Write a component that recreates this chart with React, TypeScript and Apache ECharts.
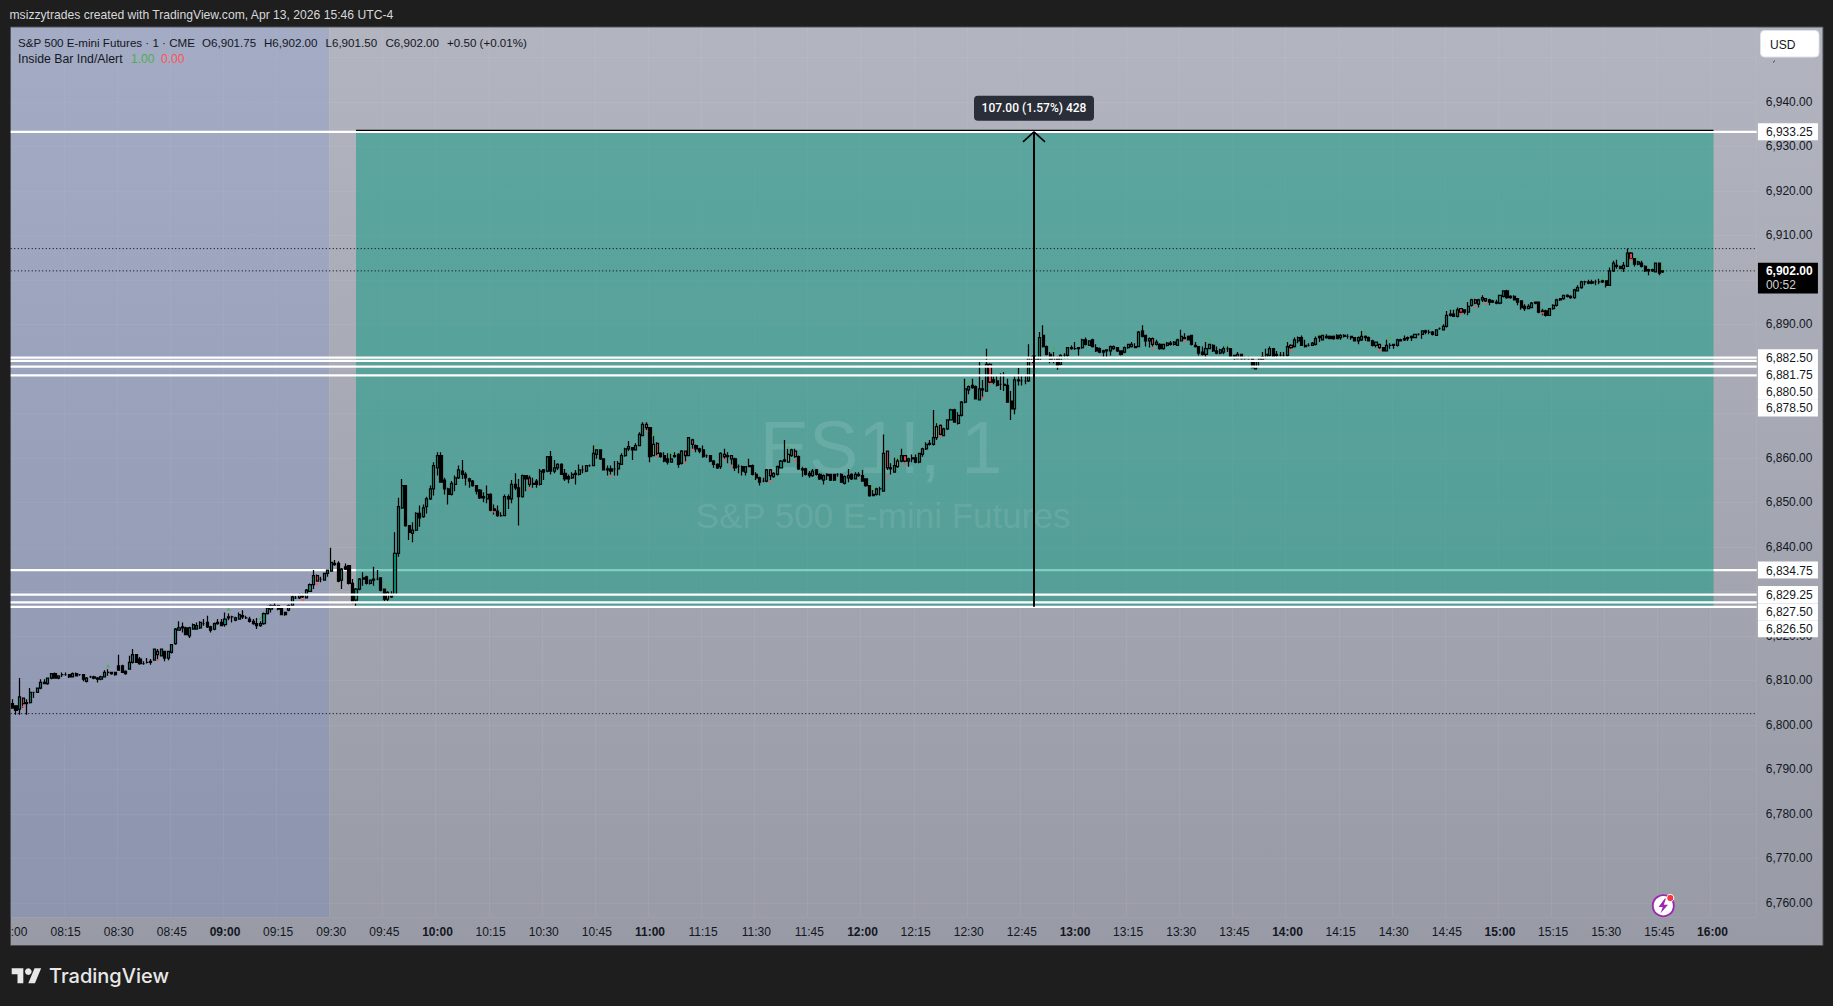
import React, { useEffect, useRef } from "react";
import * as echarts from "echarts";

// Each bar: [open, close, low, high], one list per clock hour
const bars08 = [
[6804.75,6803.75,6803.75,6805.75],[6804.25,6803.25,6802.25,6804.25],[6803.5,6806.25,6802.25,6810.5],[6806,6804.75,6803.75,6806],[6805,6804.75,6802.25,6805.75],[6805,6807.25,6804.75,6808.25],[6807.25,6807.25,6806,6807.25],[6807.25,6808.25,6807.25,6808.25],[6808.25,6809.5,6808,6810.25],[6809.5,6809.25,6809.25,6810.25],
[6809.25,6810.5,6809,6810.5],[6810.5,6811.5,6810.25,6811.5],[6811.5,6810.5,6810.5,6811.75],[6810.5,6811,6810.25,6811],[6811.25,6811.25,6810.75,6811.75],[6811.25,6811.25,6811,6811.75],[6811.25,6810.75,6810.5,6811.25],[6810.75,6811.5,6810.75,6811.75],[6811.5,6811,6811,6811.75],[6811.25,6811.25,6811,6811.25],
[6811.25,6810.25,6809.75,6811.25],[6809.75,6810.5,6809.5,6810.75],[6810.75,6810.75,6810.5,6811],[6810.75,6810.5,6810.25,6811],[6810.5,6810.25,6809.5,6810.75],[6810.25,6810.75,6810,6811],[6810.75,6811.75,6810.75,6812.25],[6811.75,6811.75,6811,6812.5],[6811.75,6811.5,6811.25,6811.75],[6811.75,6811.25,6811,6811.75],
[6813.25,6812.25,6812.25,6815.75],[6813.25,6811.75,6811.75,6813.5],[6812,6811.5,6811.25,6812.25],[6812.5,6814,6812.5,6815.5],[6814,6815.75,6813.75,6817],[6815.75,6814,6814,6815.75],[6814.75,6813.75,6813.5,6815.25],[6813.75,6813.75,6813.5,6814.25],[6814,6814,6813.75,6815],[6814.25,6814,6813.5,6814.75],
[6814.5,6817,6814.5,6817],[6816.5,6815.75,6814.75,6817],[6815.5,6817,6815.5,6817],[6816.5,6815,6814.25,6816.5],[6815,6816.5,6814.5,6816.5],[6816.25,6818,6816,6818],[6818.25,6821.5,6818,6821.75],[6821.25,6821.75,6821.25,6823.25],[6821.75,6822,6820.75,6823],[6821.75,6820.25,6820.25,6822],
[6820,6821.75,6819.5,6822],[6821.5,6822.5,6821.5,6822.75],[6821.5,6822.25,6821.5,6823],[6821.75,6823,6821.5,6823.25],[6822.75,6822.75,6822.25,6823.75],[6823,6822,6821.75,6824.5],[6822,6821.25,6820.75,6822.25],[6821.5,6822.75,6821.25,6823],[6823,6822.75,6822.5,6823.75],[6823,6822.25,6822.25,6823.75],
];
const bars09 = [
[6822.5,6823.75,6822,6825.25],[6824,6824.25,6823.5,6825],[6824.25,6824.25,6823,6824.5],[6823.5,6824,6823.25,6824.25],[6823.75,6824.75,6823.75,6825.25],[6824.5,6824.25,6823.75,6825.75],[6824,6824,6823.75,6824.5],[6823.75,6823.25,6823,6824.25],[6823.25,6822.75,6822.5,6823.75],[6822.75,6822.25,6821.5,6824],
[6822.25,6822.75,6822,6823.25],[6822.75,6825,6822.5,6825.25],[6825,6826.25,6824.75,6826.75],[6826,6826.75,6825.25,6827],[6826.75,6826.5,6826.5,6827.5],[6826.75,6826,6825.75,6826.75],[6826.25,6824.75,6824.75,6826.25],[6825.25,6824.75,6824.5,6825.25],[6825.75,6826.75,6825.5,6827],[6826.75,6828.75,6826.75,6829.25],
[6828.5,6828.5,6828.25,6829],[6828.5,6829.25,6828.25,6829.5],[6829,6828.75,6828.5,6829.5],[6828.5,6830.25,6828.5,6830.5],[6830,6831.5,6830,6831.75],[6831.5,6833.5,6830.5,6834.75],[6833.5,6832.25,6832.25,6833.75],[6832.75,6832.75,6832,6833.25],[6832.5,6834,6832.5,6834],[6834,6834.75,6833.25,6834.75],
[6834.5,6836.5,6834.5,6839.75],[6836.25,6836,6835.75,6837],[6836.25,6832.25,6832,6836.75],[6832.5,6835,6830.5,6835.25],[6835.5,6835,6834.75,6836.25],[6835.75,6831.75,6831.5,6835.75],[6831.75,6827.5,6827.25,6832.75],[6828,6830.5,6826.5,6830.75],[6830.5,6832.75,6830.25,6833],[6833,6832.75,6831.25,6834.25],
[6833.25,6831.75,6831.5,6833.5],[6831.75,6832.5,6831.5,6832.5],[6832.75,6832.5,6831.25,6835.5],[6832.75,6832.75,6832.5,6834.75],[6833,6830.25,6830,6833],[6830.5,6828.25,6827.75,6830.5],[6828.25,6829.75,6827.75,6830],[6829,6828.75,6828.5,6830],[6829.25,6838.5,6829.25,6843.25],[6838.5,6849,6837.75,6851],
[6848.75,6853.75,6848.5,6855.25],[6853.75,6844.75,6844.5,6853.75],[6844.75,6843.25,6841.5,6844.75],[6843,6843.75,6841,6845.5],[6843.75,6847.5,6843.5,6847.75],[6847.5,6846.5,6844.5,6849.25],[6846.75,6848.75,6846.5,6849.5],[6849,6850.75,6847.5,6851.25],[6850.75,6853,6850.5,6853.75],[6853,6858.25,6851.5,6859],
];
const bars10 = [
[6857.75,6860.5,6856,6861.25],[6860.5,6854.5,6854.5,6861.25],[6855,6853,6851.75,6855.5],[6853,6851.75,6849.5,6853.25],[6851.75,6854.25,6851.5,6854.75],[6854,6855.5,6852.5,6856],[6855.5,6857.25,6855.25,6858.25],[6857,6856.25,6855.25,6859.5],[6856.25,6855.5,6853.75,6856.75],[6855.25,6854.75,6853.25,6855.5],
[6854.75,6853.75,6853.5,6855],[6853.75,6852.5,6851.75,6853.75],[6852.75,6851,6850.75,6853],[6851.25,6851,6850,6852.25],[6850.75,6851.75,6849.75,6853.75],[6851.75,6848.25,6848,6852],[6848.5,6848,6847.25,6849.5],[6848,6847,6846.75,6849.25],[6847,6847,6846.75,6847.75],[6847,6851.25,6847,6851.75],
[6851.25,6850.75,6848.5,6851.75],[6850.75,6854,6849.75,6855],[6854,6853.25,6852.75,6856.5],[6853.25,6851.25,6844.75,6855.25],[6851.25,6856,6851,6856.25],[6856,6855.25,6852.5,6856],[6855.5,6854,6853.5,6856],[6854.25,6854,6853.25,6855.5],[6854.75,6854,6853.25,6855.25],[6854,6857,6853.75,6857.5],
[6857.25,6856.75,6855,6857.5],[6857,6860.25,6856.75,6860.25],[6860.25,6857,6856.25,6861.5],[6857,6857.75,6856.5,6859.5],[6857.75,6858.5,6857.25,6858.75],[6858.5,6856.25,6856.25,6858.75],[6856.5,6855.25,6854.75,6857.5],[6855.75,6855.25,6854.25,6856.25],[6855.5,6856.25,6855.25,6856.75],[6856.25,6856.5,6854,6857.25],
[6856.25,6857.25,6856,6858.5],[6857.25,6857.25,6856.5,6858.25],[6857,6858.25,6856.75,6858.25],[6858.25,6858.25,6858,6858.5],[6858.25,6861,6858.25,6862.75],[6860.75,6861.75,6859.75,6861.75],[6861.75,6859.75,6859.5,6861.75],[6859.75,6857.25,6857.25,6859.75],[6857.5,6857.25,6856,6858.25],[6857.5,6857,6856.25,6858.25],
[6857.5,6857.5,6856,6859.25],[6857.5,6858.75,6856,6859.25],[6858.5,6860.5,6858.5,6861],[6860.5,6862,6860.25,6862.25],[6862,6862.5,6861.5,6863.75],[6862.25,6861.75,6859.5,6862.25],[6861.75,6862.75,6861.75,6863.25],[6862.75,6865.25,6862.75,6865.75],[6865,6867.5,6865,6868],[6867.5,6866.75,6866.25,6868],
];
const bars11 = [
[6866.75,6860.25,6859,6866.75],[6860.5,6863,6860.5,6865],[6863.25,6861,6860.5,6863.5],[6861,6860.25,6860,6861.25],[6860.5,6859.25,6859,6861.25],[6859.75,6859,6858.5,6861],[6859,6859.75,6859,6861],[6860.25,6860.5,6860,6861.25],[6860.75,6858.5,6857.75,6861],[6858.75,6861.5,6858.5,6861.75],
[6861.5,6860.5,6859,6861.5],[6860.5,6864.5,6860.5,6864.5],[6864,6863,6862,6864.25],[6862.75,6862,6861.25,6863],[6862,6861.5,6861,6862.25],[6861.75,6860.25,6860,6862.75],[6860.5,6860.5,6860,6860.75],[6860.5,6859.25,6859,6860.5],[6859.25,6858.5,6857.75,6859.5],[6858.5,6857.75,6857.5,6858.75],
[6858,6861,6857.5,6861.25],[6860.75,6860.25,6859.75,6862],[6860.5,6860.25,6858.75,6861.25],[6860.5,6859.75,6858.5,6860.5],[6859.75,6857.75,6857,6860],[6858,6858,6856.5,6858.5],[6858,6857,6856,6858.25],[6856.75,6858,6856,6858],[6858.25,6858,6858,6859.75],[6858.25,6856.25,6856,6858.5],
[6856.25,6855.5,6855,6856.75],[6855.5,6854.5,6853.75,6855.75],[6854.75,6854.75,6854.5,6855.5],[6854.75,6857.25,6854.5,6857.5],[6857.25,6856,6855,6857.5],[6855.75,6856.5,6855.5,6856.75],[6856.25,6858,6856,6858.25],[6857.75,6859.25,6857.75,6859.5],[6859.25,6859.5,6859,6864],[6859,6860.75,6859,6862],
[6860.5,6861.75,6860.25,6862],[6861.5,6860.25,6860,6862],[6860.25,6857.5,6857.25,6860.5],[6857.5,6857.25,6855.75,6858],[6857.5,6856.25,6856,6857.75],[6856.5,6856,6855.5,6857],[6856,6857,6855.75,6857.5],[6857.25,6856.25,6856,6857.5],[6856.25,6855.25,6855,6856.5],[6855,6856,6854,6856.25],
[6856.25,6856,6855,6856.5],[6856.25,6855,6854.75,6856.25],[6856.25,6855,6854.75,6856.25],[6856.25,6856.25,6855.75,6856.5],[6856.25,6854.5,6854.5,6856.5],[6854.25,6855.75,6854,6856],[6855.5,6856,6854.5,6857.5],[6856.25,6855.25,6855,6856.5],[6855.25,6856.25,6855.25,6856.75],[6856.25,6856,6855.75,6856.75],
];
const bars12 = [
[6856,6854.75,6854.75,6857.25],[6855.25,6853.75,6853.5,6855.25],[6853.75,6851.5,6851.25,6853.75],[6851.75,6851.5,6851.5,6852.75],[6851.75,6853,6851.5,6853.25],[6853,6853,6851.5,6853.5],[6852.5,6861,6852.5,6865.25],[6861.5,6857.75,6857.25,6861.5],[6857.75,6857.5,6856.25,6858.75],[6856.75,6858.25,6856.75,6860],
[6858,6859.25,6857.75,6859.75],[6859.25,6860.5,6859,6862],[6860.5,6859.25,6859,6860.5],[6859.25,6859.75,6858,6860],[6859.75,6860,6859,6860.75],[6860,6859,6858.75,6860.75],[6859,6861,6858.75,6861],[6860.75,6862,6860.25,6862.25],[6862,6863,6861.75,6863.5],[6863.25,6863,6862.75,6864],
[6863,6864.5,6862.75,6870.75],[6864.5,6867,6864,6867.75],[6867.25,6865.25,6865,6867.5],[6865,6866.5,6865,6866.75],[6866.5,6868.5,6866.25,6868.5],[6868.5,6870.75,6868.5,6871],[6870.75,6868,6868,6871],[6867.75,6869.5,6867.5,6870.25],[6869.5,6872.5,6869.25,6872.75],[6872.5,6875.5,6872.25,6877.75],
[6875.25,6876,6874.25,6876.25],[6876.25,6875.75,6875.5,6877.75],[6876,6873.25,6873.25,6876.25],[6873,6875.5,6873,6881.75],[6875.5,6875.25,6873.5,6877.5],[6875,6881,6875,6884.5],[6881,6877,6876.75,6881.25],[6877.5,6877,6876.5,6878.25],[6877.25,6876.25,6876,6878.5],[6876.5,6876.5,6875.25,6879],
[6876.5,6876.25,6875,6879.25],[6876.25,6872.5,6872.5,6877.75],[6872.75,6871,6868.5,6875],[6871,6877.5,6869.75,6878.25],[6877.5,6877.25,6876.25,6880.25],[6877.25,6877.25,6876.25,6878.5],[6877.25,6877.25,6876.5,6878.5],[6877.25,6882.5,6877,6885.5],[6882.75,6881.75,6881.25,6883],[6882,6882.5,6881.75,6883],
[6881.75,6887,6881.75,6888.25],[6887.5,6885,6884.75,6889.75],[6885,6883.25,6883,6885.25],[6883.25,6881.75,6881.25,6883.75],[6881.75,6882.5,6881.25,6883.75],[6882.5,6880.75,6879.75,6882.75],[6881,6883,6880.75,6883.25],[6883,6883,6882.25,6883.5],[6883,6884.75,6882.25,6884.75],[6884.75,6884.5,6884.25,6885.25],
];
const bars13 = [
[6884.5,6884.5,6884.25,6886],[6884.75,6884.5,6883,6884.75],[6884.75,6886.5,6884.5,6886.75],[6886.5,6885.5,6885.25,6887],[6885.25,6886.25,6885.25,6886.25],[6886.5,6885,6884.75,6886.75],[6884.75,6884,6883.75,6885.5],[6884.5,6883.75,6883.5,6884.75],[6884,6883.75,6882.5,6884.25],[6884.25,6884,6882.5,6884.25],
[6884,6885,6883,6885.25],[6884.5,6885,6884.25,6885.25],[6884.75,6884,6883.75,6884.75],[6884,6883.25,6883,6884],[6883.75,6884.75,6883.5,6885],[6884.75,6885.5,6884.5,6885.5],[6885,6885.5,6884.75,6886],[6885,6884.75,6884.75,6885.75],[6885,6888.25,6885,6888.5],[6888.5,6887.25,6887,6889.75],
[6887.5,6886.25,6885,6887.5],[6886.25,6886.75,6884.75,6887],[6886.75,6885.5,6885,6887],[6885.5,6886,6885.25,6886.5],[6885.5,6884.5,6884.25,6885.75],[6884.5,6885.5,6884.25,6885.5],[6885.25,6885.75,6885,6886],[6885.75,6885.5,6885.25,6886.25],[6885.5,6886,6885.25,6886.25],[6885.25,6886.5,6885.25,6886.75],
[6886.25,6887.25,6886.25,6888.75],[6887,6886.75,6886.75,6888],[6887.25,6886.5,6886.5,6887.5],[6887.5,6885.5,6885.25,6887.5],[6885.25,6885,6884.75,6886],[6885,6883.5,6883,6885],[6883.75,6883.25,6883,6885],[6883.25,6884.5,6882.25,6886],[6884.5,6885.5,6884.5,6885.5],[6885.25,6884,6883.75,6885.5],
[6884,6883.5,6883.25,6885],[6883.5,6884.25,6883.25,6884.5],[6883.75,6884.5,6883.25,6885],[6884.5,6884.5,6883.75,6885],[6884.5,6882.75,6882.5,6884.5],[6883,6882.5,6881.75,6883],[6882.25,6883.25,6882.25,6883.75],[6883.25,6882.25,6882,6883.25],[6882.25,6882.25,6882,6882.75],[6882.25,6882.25,6882,6882.75],
[6882.25,6880.25,6880.25,6882.25],[6880,6881.75,6880,6881.75],[6881.75,6882.25,6880.5,6882.5],[6882,6882.75,6882,6883.75],[6882.5,6883.25,6882.25,6884.5],[6883,6884.5,6882.75,6885],[6884.5,6882.75,6882.75,6884.5],[6883.25,6883,6882.25,6884],[6883,6883,6882.75,6883.75],[6883,6883,6882.75,6883.75],
];
const bars14 = [
[6883,6885,6882.75,6886],[6885.25,6884.75,6884.5,6885.5],[6885,6886.5,6884.75,6887],[6886.25,6887,6885.75,6887.25],[6887,6885.25,6885.25,6887.5],[6885.25,6885,6884.75,6886.5],[6885.25,6885.25,6885,6885.75],[6885.25,6885.75,6885.25,6886],[6885.5,6886.75,6885.25,6887.25],[6887,6887.25,6886,6887.5],
[6886.5,6887.5,6886.5,6887.5],[6887.25,6887,6886.75,6887.75],[6887.25,6886.75,6886.75,6887.5],[6887.25,6886.75,6886.5,6887.5],[6887.5,6886.75,6886.75,6887.75],[6887,6887.5,6886.5,6887.75],[6887.5,6887.25,6887,6887.75],[6887.25,6887.25,6886.75,6887.75],[6887.25,6887,6886.5,6887.25],[6887,6886.25,6886.25,6887],
[6886.25,6887,6885.5,6887.25],[6886.5,6887.25,6886.25,6888.5],[6887.25,6887,6886.25,6887.5],[6887,6886.25,6886.25,6887.25],[6886.25,6885.25,6885,6886.5],[6885.25,6886,6884.75,6886],[6885.5,6884.75,6884.5,6885.5],[6884.75,6884,6884,6884.75],[6884,6885.25,6884,6886.5],[6885.25,6885.25,6884.5,6885.75],
[6885.25,6885.5,6884.5,6885.5],[6885.25,6886.5,6885,6886.75],[6886.5,6886.25,6886.25,6886.75],[6886.5,6886.75,6886.25,6887.5],[6886.75,6887,6886.25,6887.25],[6887,6887.25,6886.25,6887.5],[6887,6887.75,6887,6887.75],[6887.75,6887.75,6887.5,6888],[6887.75,6888.5,6886.75,6888.5],[6888.5,6888.25,6887.75,6888.75],
[6888.25,6888.25,6887.75,6888.75],[6888.25,6887.75,6887.5,6888.5],[6887.5,6888.75,6887.5,6888.75],[6889,6889,6888.75,6889.25],[6888.75,6889.5,6888.75,6890],[6889.5,6892,6889.25,6893],[6892,6892.25,6891.75,6893.25],[6892.25,6891.75,6891.75,6893.25],[6891.75,6893.25,6891.5,6893.75],[6893.5,6892.75,6892.25,6893.5],
[6893.25,6892.75,6892.25,6893.25],[6892.75,6894,6892,6895],[6894.25,6895.5,6894,6895.75],[6895.5,6894.75,6894.5,6895.75],[6894.5,6895.5,6893.75,6895.75],[6895.5,6896,6895,6896.5],[6895.75,6895.25,6895,6895.75],[6895.5,6895,6894.25,6895.75],[6895.25,6895,6894.75,6895.5],[6895,6894.75,6894.5,6895.5],
];
const bars15 = [
[6894.75,6896.5,6894.5,6896.5],[6896.25,6897.5,6896,6897.5],[6897.5,6896,6895.75,6897.75],[6896.25,6896,6895.75,6896.5],[6896.25,6895.5,6895.5,6896.5],[6895.75,6895,6894.25,6895.75],[6895.25,6893.75,6893.25,6895.25],[6894,6893.5,6893,6894.5],[6893.5,6894,6893.5,6894.5],[6893.75,6894.75,6893.75,6895],
[6895,6894.75,6894.5,6895],[6895,6892.75,6892.5,6895],[6893,6892.75,6892,6893.5],[6893,6892,6891.75,6893.25],[6892,6893.5,6892,6893.5],[6893.5,6894.25,6893.25,6894.5],[6894.25,6895.5,6894,6895.75],[6895.5,6895.75,6895.25,6895.75],[6895.75,6896.5,6895.5,6896.5],[6896.5,6896.25,6896,6896.75],
[6896.25,6896,6895.75,6896.5],[6896,6897.75,6895.75,6898],[6897.5,6898.25,6897.5,6898.75],[6898.25,6899.5,6898,6899.75],[6899.5,6899.5,6898.75,6899.75],[6899.5,6899.25,6899,6900],[6899.25,6899.5,6899,6900],[6899.5,6899.5,6898.75,6900],[6899.5,6899.5,6899,6900.25],[6899.5,6899.75,6899.25,6900],
[6899.75,6898.75,6898.25,6899.75],[6898.75,6902,6898.75,6902.75],[6902,6903.75,6901.75,6904.25],[6903.25,6903,6902.5,6904.5],[6903,6902.5,6902.5,6903],[6902.5,6903.25,6901.75,6904],[6903,6906,6903,6907],[6906,6904.75,6904.5,6906.25],[6904.75,6903.5,6903,6904.75],[6903.5,6904,6903.25,6904.25],
[6903.75,6903,6902.75,6904.25],[6903,6902,6901.75,6903.25],[6902.25,6902,6901,6902.5],[6902,6902.25,6901.75,6902.5],[6901.75,6903.75,6901.75,6903.75],[6903.75,6901.5,6901,6903.75],[6901.75,6902,6901.5,6902],
];
// Inside Bar indicator marks: [bar number, price]
const insideDown = [[3,6804],[41,6814.5],[82,6828],[86,6831.5],[136,6847.75],[146,6853],[169,6855.75],[179,6865.75],[182,6860.25],[190,6859],[192,6861.75],[201,6859.5],[203,6858],[214,6854.5],[221,6859.25],[247,6855.75],[252,6858.5],[262,6864.75],[274,6873.5],[276,6876.5],[288,6881],[322,6884.5],[331,6886],[361,6884],[386,6884],[409,6892.25],[413,6893.75],[416,6894.5],[432,6892.5],[457,6904.5]];
const insideUp = [[27,6813.25],[61,6826],[70,6824],[106,6831.75],[165,6863],[181,6865.25],[186,6861.25],[219,6862.5],[243,6853.5],[250,6860.25],[261,6868.5],[270,6877],[294,6884.75],[338,6886.5],[343,6885.5],[369,6888],[382,6888.25],[389,6887],[449,6900.75],[459,6905],[466,6902.75]];
const redFilled = [3,41,82,86,146,179,182,190,192,201,203,214,221,247,252,262,276,288,322,361,386,409,413,416,457];
const greenFilled = [106,181,219,250,261,294];

// Price levels
const levelBelowZone = [6834.75];
const levelLines = [6933.25, 6882.5, 6881.75, 6880.5, 6878.5, 6829.25, 6827.5, 6826.5];
const dottedLevels = [6907, 6902, 6802.5];
const priceTags = [
  ["6,933.25", 6933.25, 0], ["6,882.50", 6882.5, 0], ["6,881.75", 6881.75, 13.6], ["6,880.50", 6880.5, 24.7], ["6,878.50", 6878.5, 32.5],
  ["6,834.75", 6834.75, 0], ["6,829.25", 6829.25, 0], ["6,827.50", 6827.5, 9.4], ["6,826.50", 6826.5, 22],
] as [string, number, number][];
const hiddenTickLabels = [6950, 6900, 6880, 6870];
const zoneTop = 6933.25;
const zoneBottom = 6826.5;
const lastPrice = 6902;
const FONT = '"Liberation Sans", Arial, sans-serif';
// Legend pieces: [text, left edge]
const legendPieces = [
  ["S&P 500 E-mini Futures · 1 · CME", 18], ["O6,901.75", 202], ["H6,902.00", 264], ["L6,901.50", 325.5], ["C6,902.00", 385.5], ["+0.50 (+0.01%)", 447],
] as [string, number][];

const allBars = [...bars08, ...bars09, ...bars10, ...bars11, ...bars12, ...bars13, ...bars14, ...bars15];
const categories: string[] = [];
for (let m = 480; m <= 972; m++) {
  categories.push(String(Math.floor(m / 60)).padStart(2, "0") + ":" + String(m % 60).padStart(2, "0"));
}
const redSet = new Set(redFilled);
const greenSet = new Set(greenFilled);
const candleData = allBars.map((b, i) => {
  if (redSet.has(i)) return { value: b, itemStyle: { color: "#f7525f", color0: "#f7525f" } };
  if (greenSet.has(i)) return { value: b, itemStyle: { color: "#8fce7a", color0: "#8fce7a" } };
  return { value: b };
});

const xAt = (api: any, f: number) => {
  const i = Math.floor(f);
  return api.coord([i, 6900])[0] + (f - i) * api.size([1, 0])[0];
};
const yAt = (api: any, v: number) => api.coord([0, v])[1];
const customBase = { type: "custom", data: [[0, 6900]], silent: true, animation: false, tooltip: { show: false } };

function hLine(x1: number, x2: number, y: number, stroke: string, lineWidth: number, lineDash?: number[]) {
  return { type: "line", shape: { x1, x2, y1: y, y2: y }, style: { stroke, lineWidth, lineDash } };
}

export default function App() {
  const ref = useRef<HTMLDivElement>(null);
  useEffect(() => {
    document.body.style.margin = "0";
    document.body.style.background = "#1e1e1e";
    const chart = echarts.init(ref.current!, undefined, { renderer: "svg" });
    echarts.graphic.registerShape(
      "tvLogo",
      echarts.graphic.extendPath("M14 22H7V11H0V4h14v18zM28 22h-8l7.5-18h8L28 22z", {}) as any
    );
    echarts.graphic.registerShape(
      "bolt",
      echarts.graphic.extendPath("M7 0L1 8h4L3 14l7-8H6L8 0z", {}) as any
    );
    const option: any = {
      animation: false,
      backgroundColor: "#1e1e1e",
      grid: { left: 10.73, top: 27, width: 1746, height: 890, containLabel: false },
      xAxis: {
        type: "category",
        data: categories,
        boundaryGap: true,
        axisLine: { show: false },
        axisTick: { show: false, alignWithLabel: true, interval: (i: number) => i % 15 === 0 },
        splitLine: { show: true, interval: (i: number) => i % 15 === 0, lineStyle: { color: "rgba(255,255,255,0.06)", width: 1 } },
        axisLabel: {
          interval: (i: number) => i % 15 === 0,
          margin: 9,
          hideOverlap: false,
          color: "#131722",
          fontFamily: FONT,
          fontSize: 12,
          formatter: (v: string) => {
            if (v === "08:00") return "{first|:00}";
            return v.endsWith(":00") ? "{b|" + v + "}" : v;
          },
          rich: {
            b: { fontWeight: "bold", fontFamily: FONT, fontSize: 12, color: "#131722" },
            first: { fontFamily: FONT, fontSize: 12, color: "#131722", padding: [0, 0, 0, 13] },
          },
        },
      },
      yAxis: {
        type: "value",
        position: "right",
        min: 6756.8,
        max: 6956.8,
        splitNumber: 20,
        scale: true,
        axisLine: { show: false },
        axisTick: { show: false },
        splitLine: { show: true, lineStyle: { color: "rgba(255,255,255,0.06)", width: 1 } },
        axisLabel: {
          margin: 9,
          color: "#131722",
          fontFamily: FONT,
          fontSize: 12,
          showMinLabel: false,
          showMaxLabel: false,
          formatter: (v: number) =>
            v % 10 === 0 && !hiddenTickLabels.includes(v)
              ? v.toLocaleString("en-US", { minimumFractionDigits: 2, maximumFractionDigits: 2 })
              : "",
        },
      },
      series: [
        {
          ...customBase,
          z: 1,
          renderItem: (p: any, api: any) => {
            const c = p.coordSys;
            return {
              type: "rect",
              shape: { x: c.x, y: c.y, width: xAt(api, 89.36) - c.x, height: c.height },
              style: { fill: "rgba(41,98,255,0.1)" },
            };
          },
        },
        {
          ...customBase,
          z: 2,
          renderItem: (p: any, api: any) => {
            const c = p.coordSys;
            return {
              type: "group",
              children: levelBelowZone.map((v) => hLine(c.x, c.x + c.width, yAt(api, v), "#ffffff", 2.2)),
            };
          },
        },
        {
          ...customBase,
          z: 3,
          renderItem: (p: any, api: any) => {
            const x1 = xAt(api, 97);
            const x2 = xAt(api, 480.3);
            const y1 = yAt(api, zoneTop);
            const y2 = yAt(api, zoneBottom);
            return { type: "rect", shape: { x: x1, y: y1, width: x2 - x1, height: y2 - y1 }, style: { fill: "rgba(8,153,129,0.5)" } };
          },
        },
        {
          ...customBase,
          z: 4,
          renderItem: (p: any, api: any) => {
            const c = p.coordSys;
            return {
              type: "group",
              children: dottedLevels.map((v) => hLine(c.x, c.x + c.width, yAt(api, v), "#000000", 1, [1, 2.5])),
            };
          },
        },
        {
          ...customBase,
          z: 4,
          renderItem: () => ({
            type: "group",
            children: [
              { type: "text", style: { x: 881, y: 447, text: "ES1!, 1", fill: "rgba(255,255,255,0.11)", font: "74px " + FONT, align: "center", verticalAlign: "middle" } },
              { type: "text", style: { x: 883, y: 515, text: "S&P 500 E-mini Futures", fill: "rgba(255,255,255,0.11)", font: "35px " + FONT, align: "center", verticalAlign: "middle" } },
            ],
          }),
        },
        {
          type: "candlestick",
          z: 5,
          data: candleData,
          barWidth: 2.6,
          clip: false,
          itemStyle: {
            color: "#089981",
            color0: "#000000",
            borderColor: "#000000",
            borderColor0: "#000000",
            borderColorDoji: "#000000",
            borderWidth: 1.25,
          },
        },
        {
          type: "scatter",
          z: 6,
          data: insideUp,
          symbol: "triangle",
          symbolSize: [4.5, 3.5],
          itemStyle: { color: "#4caf50" },
          silent: true,
        },
        {
          type: "scatter",
          z: 6,
          data: insideDown,
          symbol: "triangle",
          symbolRotate: 180,
          symbolSize: [4.5, 2.5],
          itemStyle: { color: "#ff5252" },
          silent: true,
        },
        {
          ...customBase,
          z: 7,
          renderItem: (p: any, api: any) => {
            const c = p.coordSys;
            return {
              type: "group",
              children: levelLines.map((v) => hLine(c.x, c.x + c.width, yAt(api, v), "#ffffff", 2.2)),
            };
          },
        },
        {
          ...customBase,
          z: 8,
          renderItem: (p: any, api: any) => {
            const x = xAt(api, 288.43);
            const top = yAt(api, zoneTop);
            const bottom = yAt(api, zoneBottom);
            const shaft = { stroke: "#000000", lineWidth: 2 };
            const head = { stroke: "#000000", lineWidth: 1.6 };
            const topEdge = top - 1.5;
            return {
              type: "group",
              children: [
                hLine(xAt(api, 97), xAt(api, 480.3), topEdge, "#000000", 1.2),
                { type: "line", shape: { x1: x, y1: bottom, x2: x, y2: top }, style: shaft },
                { type: "line", shape: { x1: x, y1: top, x2: x - 11, y2: top + 10 }, style: head },
                { type: "line", shape: { x1: x, y1: top, x2: x + 11, y2: top + 10 }, style: head },
                { type: "rect", shape: { x: x - 60, y: top - 36, width: 120, height: 25, r: 4 }, style: { fill: "#2a2e39" } },
                {
                  type: "text",
                  style: { x, y: top - 23.5, text: "107.00 (1.57%) 428", fill: "#ffffff", font: '500 12px Roboto, sans-serif', align: "center", verticalAlign: "middle" },
                },
              ],
            };
          },
        },
        {
          ...customBase,
          z: 9,
          renderItem: (p: any, api: any) => {
            const c = p.coordSys;
            const left = c.x + c.width + 1.2;
            const children: any[] = [];
            priceTags.forEach(([label, v, nudge]) => {
              const y = yAt(api, v) + nudge;
              children.push({ type: "rect", shape: { x: left, y: y - 8.5, width: 60, height: 17 }, style: { fill: "#ffffff" } });
              children.push({ type: "text", style: { x: left + 8, y: y + 0.5, text: label, fill: "#131722", font: "12px " + FONT, align: "left", verticalAlign: "middle" } });
            });
            const y = yAt(api, lastPrice);
            children.push({ type: "rect", shape: { x: left, y: y - 8, width: 60, height: 30.7 }, style: { fill: "#000000" } });
            children.push({ type: "text", style: { x: left + 8, y: y, text: "6,902.00", fill: "#ffffff", font: "bold 12px " + FONT, align: "left", verticalAlign: "middle" } });
            children.push({ type: "text", style: { x: left + 8, y: y + 14, text: "00:52", fill: "#d0d0d0", font: "12px " + FONT, align: "left", verticalAlign: "middle" } });
            return { type: "group", children };
          },
        },
      ],
      graphic: [
        {
          type: "rect",
          z: -1,
          shape: { x: 10.5, y: 27, width: 1812.5, height: 918.5 },
          style: {
            stroke: "#4d4d4d",
            lineWidth: 1,
            fill: { type: "linear", x: 0, y: 0, x2: 0, y2: 1, colorStops: [{ offset: 0, color: "#b2b4bf" }, { offset: 1, color: "#989aa5" }] },
          },
        },
        { type: "text", z: 20, x: 9.5, y: 15, style: { text: "msizzytrades created with TradingView.com, Apr 13, 2026 15:46 UTC-4", fill: "#d8d8d8", font: "12.15px " + FONT, verticalAlign: "middle" } },
        ...legendPieces.map(([text, x]) => ({ type: "text", z: 20, x, y: 42, style: { text, fill: "#131722", font: "11.6px " + FONT, verticalAlign: "middle" } })),
        { type: "text", z: 20, x: 18, y: 59, style: { text: "Inside Bar Ind/Alert", fill: "#131722", font: "12.3px " + FONT, verticalAlign: "middle" } },
        { type: "text", z: 20, x: 131, y: 59, style: { text: "1.00", fill: "#4caf50", font: "12px " + FONT, verticalAlign: "middle" } },
        { type: "text", z: 20, x: 161, y: 59, style: { text: "0.00", fill: "#ff5252", font: "12px " + FONT, verticalAlign: "middle" } },
        { type: "rect", z: 20, shape: { x: 1760.5, y: 30.5, width: 58.5, height: 26.5, r: 4 }, style: { fill: "#ffffff", stroke: "#e0e3eb", lineWidth: 1 } },
        { type: "text", z: 21, x: 1770, y: 44.5, style: { text: "USD", fill: "#131722", font: "12px " + FONT, verticalAlign: "middle" } },
        { type: "line", z: 20, shape: { x1: 1774.5, y1: 60.5, x2: 1773.5, y2: 62.5 }, style: { stroke: "#3a3d46", lineWidth: 1 } },
        { type: "circle", z: 20, shape: { cx: 1663.3, cy: 905.7, r: 10.5 }, style: { fill: "#ffffff", stroke: "#9c27b0", lineWidth: 1.8 } },
        { type: "bolt", z: 21, x: 1657.5, y: 898.5, scaleX: 1.05, scaleY: 1.05, style: { fill: "#9c27b0" } },
        { type: "circle", z: 21, shape: { cx: 1670.3, cy: 898, r: 3.6 }, style: { fill: "#f23645", stroke: "#ffffff", lineWidth: 1 } },
        { type: "tvLogo", z: 20, x: 11.7, y: 965, scaleX: 0.83, scaleY: 0.83, style: { fill: "#e8e8e8" } },
        { type: "circle", z: 20, shape: { cx: 28.3, cy: 971.6, r: 3.3 }, style: { fill: "#e8e8e8" } },
        { type: "text", z: 20, x: 49, y: 976, style: { text: "TradingView", fill: "#e8e8e8", font: "500 20px Inter, " + FONT, verticalAlign: "middle" } },
      ],
    };
    chart.setOption(option);
    return () => chart.dispose();
  }, []);
  return (
    <div style={{ position: "fixed", left: 0, top: 0, width: 1833, height: 1006, background: "#1e1e1e" }}>
      <div ref={ref} style={{ width: 1833, height: 1006 }} />
    </div>
  );
}
